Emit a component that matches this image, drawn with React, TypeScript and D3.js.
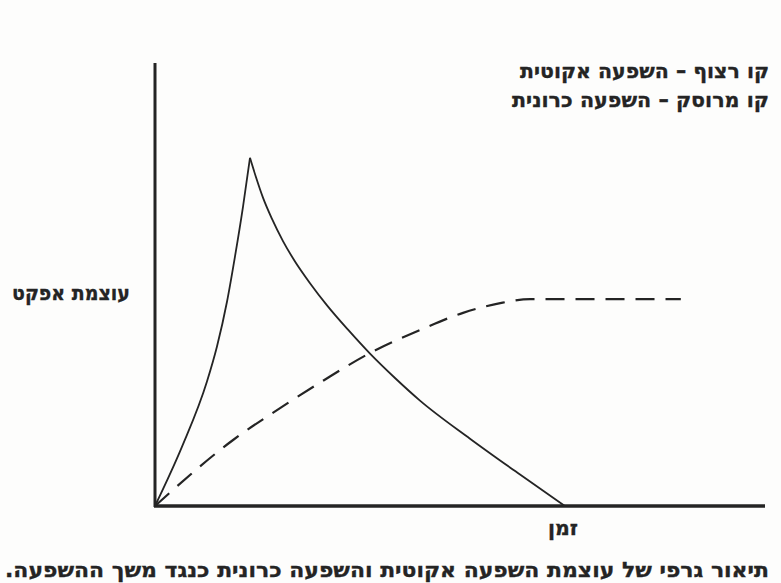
import React from "react";
import * as d3 from "d3";

// Acute effect: fast rise to a sharp peak, then decay back to zero
const TIME_RISE = [0, 4.43, 8.52, 10.16, 11.8, 13.11, 14.43, 15.57];
const EFFECT_RISE = [0, 13.4, 28.1, 36.0, 46.1, 56.3, 67.6, 78.6];
const TIME_DECLINE = [15.57, 16.56, 17.7, 19.18, 20.98, 22.95, 25.41, 28.2, 31.64, 35.25, 39.34, 43.44, 51.64, 59.84, 67.21];
const EFFECT_DECLINE = [78.6, 74.2, 69.6, 64.8, 59.8, 55.2, 50.3, 45.3, 39.8, 34.4, 28.9, 23.8, 15.2, 7.1, 0];

// Chronic effect: slow build-up to a steady plateau
const TIME_CHRONIC = [0, 12.8, 20.5, 27.7, 35.2, 43.4, 50.5, 56.6, 61.5, 86.2];
const EFFECT_CHRONIC = [0, 14.9, 22.1, 28.4, 34.5, 39.7, 43.6, 45.8, 46.7, 46.7];

const LEGEND_LINES = ["קו רצוף – השפעה אקוטית", "קו מרוסק – השפעה כרונית"];
const Y_LABEL = "עוצמת אפקט";
const X_LABEL = "זמן";
const CAPTION = "תיאור גרפי של עוצמת השפעה אקוטית והשפעה כרונית כנגד משך ההשפעה.";

const W = 781;
const H = 583;
const INK = "#242424";
const FONT = "'DejaVu Sans', 'Liberation Sans', sans-serif";

const x = d3.scaleLinear().domain([0, 100]).range([155, 765]);
const y = d3.scaleLinear().domain([0, 100]).range([506, 63]);

const zip = (ts: number[], es: number[]) => ts.map((t, i) => [t, es[i]] as [number, number]);

const line = d3
  .line<[number, number]>()
  .x((d) => x(d[0]))
  .y((d) => y(d[1]))
  .curve(d3.curveMonotoneX);

type LabelProps = { cx: number; y: number; width: number; size?: number; children: string };

// Right-to-left bold label, centred and stretched to a fixed width
function Label({ cx, y: ly, width, size = 21, children }: LabelProps) {
  return (
    <text
      x={cx}
      y={ly}
      direction="rtl"
      textAnchor="middle"
      fontFamily={FONT}
      fontWeight="bold"
      fontSize={size}
      fill={INK}
      stroke={INK}
      strokeWidth={0.35}
      textLength={width}
      lengthAdjust="spacingAndGlyphs"
    >
      {children}
    </text>
  );
}

export default function App() {
  const rise = line(zip(TIME_RISE, EFFECT_RISE)) ?? "";
  const decline = line(zip(TIME_DECLINE, EFFECT_DECLINE)) ?? "";
  const chronic = line(zip(TIME_CHRONIC, EFFECT_CHRONIC)) ?? "";
  const [x0, x1] = x.range();
  const [y0, y1] = y.range();

  return (
    <svg
      width={W}
      height={H}
      viewBox={`0 0 ${W} ${H}`}
      style={{ position: "fixed", left: 0, top: 0 }}
    >
      <rect width={W} height={H} fill="#fdfdfc" />

      {/* axes */}
      <line x1={x0} y1={y1} x2={x0} y2={y0 + 1} stroke={INK} strokeWidth={3} />
      <line x1={x0 - 1} y1={y0} x2={x1} y2={y0} stroke={INK} strokeWidth={3.5} />

      {/* series */}
      <path d={chronic} fill="none" stroke={INK} strokeWidth={2.2} strokeDasharray="19 11" />
      <path d={rise} fill="none" stroke={INK} strokeWidth={1.8} />
      <path d={decline} fill="none" stroke={INK} strokeWidth={1.8} />

      {/* legend */}
      <Label cx={644.5} y={78} width={249}>{LEGEND_LINES[0]}</Label>
      <Label cx={640.5} y={107} width={257}>{LEGEND_LINES[1]}</Label>

      {/* axis labels */}
      <Label cx={71} y={300} width={118}>{Y_LABEL}</Label>
      <Label cx={563} y={535} width={30}>{X_LABEL}</Label>

      {/* caption */}
      <Label cx={387} y={577} width={764}>{CAPTION}</Label>
    </svg>
  );
}
